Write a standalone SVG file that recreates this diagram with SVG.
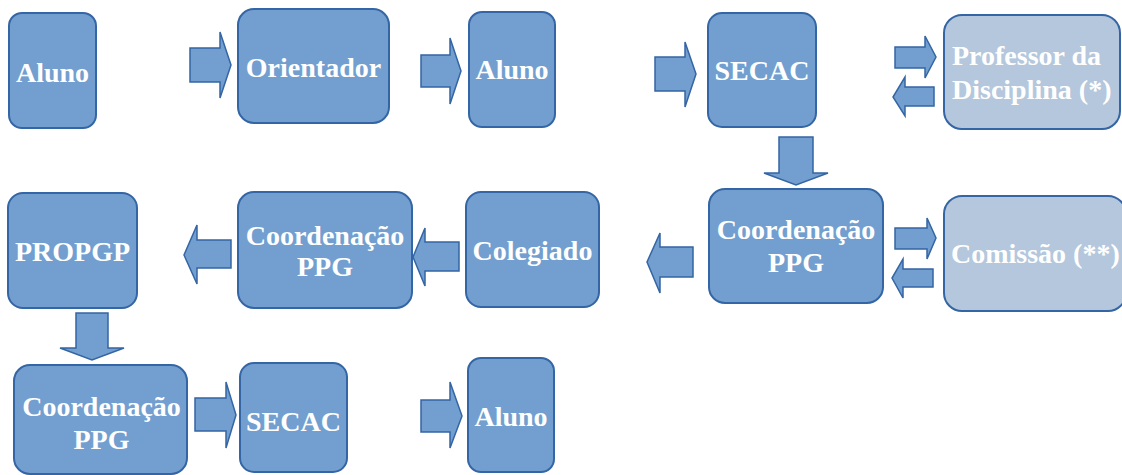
<svg xmlns="http://www.w3.org/2000/svg" width="1122" height="475" viewBox="0 0 1122 475">
<style>
.box{fill:#729fcf;stroke:#3465a4;stroke-width:2}
.lbox{fill:#b4c7dc;stroke:#3465a4;stroke-width:2}
.arr{fill:#729fcf;stroke:#3465a4;stroke-width:1.5;stroke-linejoin:miter}
text{font-family:"Liberation Serif","Times New Roman",serif;font-weight:bold;font-size:28px;fill:#ffffff}
.c{text-anchor:middle}
</style>
<rect width="1122" height="475" fill="#ffffff"/>
<g id="n1"><rect class="box" x="9" y="13" width="87" height="115" rx="13"/><text class="c" x="52.5" y="82">Aluno</text></g>
<g id="n2"><rect class="box" x="238" y="9" width="151" height="114" rx="16"/><text class="c" x="313.5" y="77">Orientador</text></g>
<g id="n3"><rect class="box" x="469" y="12" width="86" height="115" rx="13"/><text class="c" x="512" y="79">Aluno</text></g>
<g id="n4"><rect class="box" x="708" y="13" width="108" height="114" rx="14"/><text class="c" x="762" y="80">SECAC</text></g>
<g id="n5"><rect class="lbox" x="944" y="15" width="176" height="114" rx="18"/><text x="952" y="65">Professor da</text><text x="952" y="99">Disciplina (*)</text></g>
<g id="n6"><rect class="box" x="709" y="189" width="174" height="114" rx="16"/><text class="c" x="796" y="239">Coordenação</text><text class="c" x="796" y="272">PPG</text></g>
<g id="n7"><rect class="lbox" x="944" y="196" width="182" height="115" rx="18"/><text x="951" y="263">Comissão (**)</text></g>
<g id="n8"><rect class="box" x="466" y="192" width="133" height="115" rx="15"/><text class="c" x="532.5" y="260">Colegiado</text></g>
<g id="n9"><rect class="box" x="238" y="192" width="174" height="116" rx="16"/><text class="c" x="325" y="245">Coordenação</text><text class="c" x="325" y="276">PPG</text></g>
<g id="n10"><rect class="box" x="8" y="193" width="129" height="115" rx="15"/><text class="c" x="72.5" y="261">PROPGP</text></g>
<g id="n11"><rect class="box" x="14" y="365" width="173" height="109" rx="16"/><text class="c" x="101.5" y="416">Coordenação</text><text class="c" x="101.5" y="449">PPG</text></g>
<g id="n12"><rect class="box" x="240" y="363" width="107" height="109" rx="14"/><text class="c" x="293.5" y="431">SECAC</text></g>
<g id="n13"><rect class="box" x="468" y="358" width="86" height="114" rx="13"/><text class="c" x="511" y="426">Aluno</text></g>
<g id="connectors">
<polygon class="arr" points="190,48 220,48 220,32 231,65 220,98 220,82 190,82"/>
<polygon class="arr" points="421,55 450,55 450,38 461,71 450,104 450,87 421,87"/>
<polygon class="arr" points="655,57 685,57 685,42 696,74 685,107 685,91 655,91"/>
<polygon class="arr" points="895,47 925,47 925,36 936,57 925,78 925,68 895,68"/>
<polygon class="arr" points="934,87 905,87 905,77 893,97 905,116 905,106 934,106"/>
<polygon class="arr" points="779,137 813,137 813,173 828,173 796,185 764,173 779,173"/>
<polygon class="arr" points="895,228 927,228 927,218 936,238 927,259 927,249 895,249"/>
<polygon class="arr" points="933,269 903,269 903,259 892,278 903,298 903,287 933,287"/>
<polygon class="arr" points="693,247 660,247 660,233 647,262 660,293 660,277 693,277"/>
<polygon class="arr" points="459,242 425,242 425,228 413,257 425,286 425,271 459,271"/>
<polygon class="arr" points="231,240 197,240 197,225 184,255 197,284 197,268 231,268"/>
<polygon class="arr" points="76,313 108,313 108,348 124,348 92,360 60,348 76,348"/>
<polygon class="arr" points="195,398 226,398 226,382 236,415 226,448 226,431 195,431"/>
<polygon class="arr" points="421,400 450,400 450,382 462,416 450,448 450,432 421,432"/>
</g>
</svg>
